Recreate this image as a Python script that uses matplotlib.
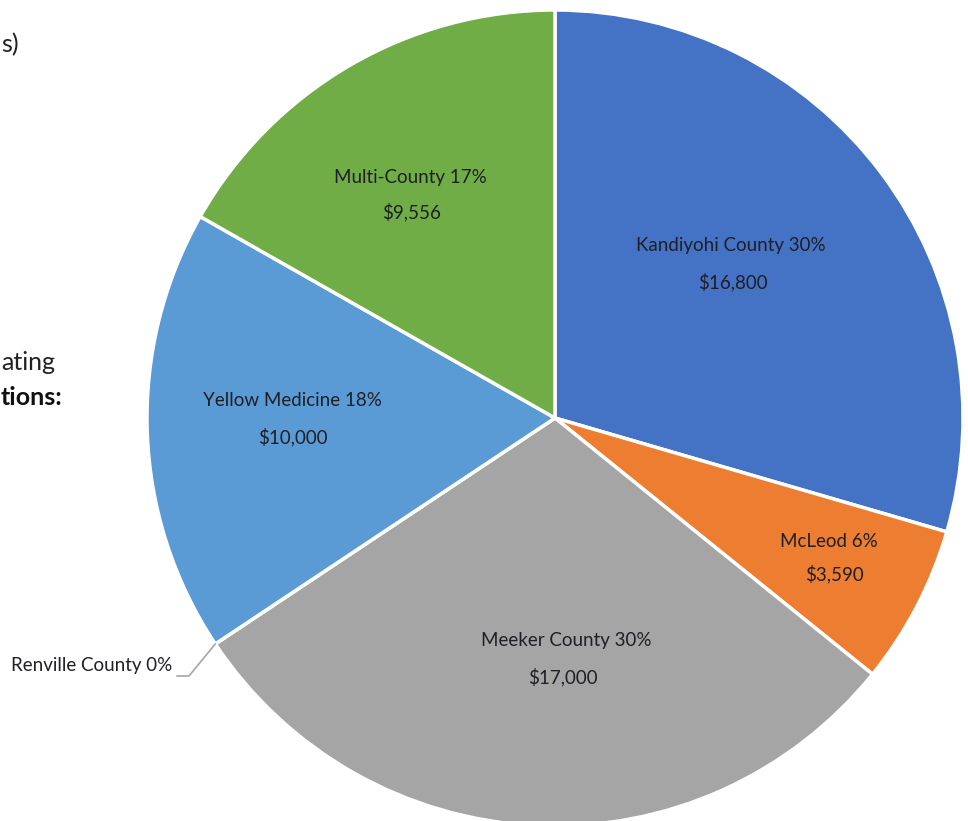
import matplotlib
matplotlib.use("Agg")
import matplotlib.pyplot as plt
import numpy as np

# ---- data ----
categories = ["Kandiyohi County", "McLeod", "Meeker County", "Renville County",
              "Yellow Medicine", "Multi-County"]
values = [16800, 3590, 17000, 0, 10000, 9556]
colors = ["#4472C4", "#ED7D31", "#A5A5A5", "#FFC000", "#5B9BD5", "#70AD47"]

# label placement (pixel coords, y from top) : (line1 x, line1 y, line2 x, line2 y)
label_pos = {
    "Kandiyohi County": (731, 245, 733, 282),
    "McLeod": (829, 541, 834, 574),
    "Meeker County": (566, 640, 563, 677),
    "Yellow Medicine": (292, 400, 293, 437),
    "Multi-County": (410, 177, 412, 212),
}

W, H = 968, 821
fig = plt.figure(figsize=(W / 100, H / 100), dpi=100)
ax = fig.add_axes([0, 0, 1, 1])

cx, cy, r = 555, 418, 408
wedges, _ = ax.pie(values, colors=colors, startangle=90, counterclock=False,
                   center=(cx, H - cy), radius=r,
                   wedgeprops=dict(edgecolor="white", linewidth=2.5))
ax.set_xlim(0, W)
ax.set_ylim(0, H)
ax.set_aspect("auto")
ax.axis("off")

font = "Lato"
tcolor = "#1f1f26"
fs = 13.5
total = sum(values)
for name, v in zip(categories, values):
    pct = round(v / total * 100)
    if name in label_pos:
        x1, y1, x2, y2 = label_pos[name]
        ax.text(x1, H - y1, f"{name} {pct}%", ha="center", va="center",
                fontsize=fs, family=font, color=tcolor)
        ax.text(x2, H - y2, f"${v:,}", ha="center", va="center",
                fontsize=fs, family=font, color=tcolor)

# Renville County (zero slice) with leader line
cum = sum(values[:3])
ang = np.deg2rad(90 - cum / total * 360)
px, py = cx + r * np.cos(ang), (H - cy) + r * np.sin(ang)
ax.plot([px, 189, 177], [py, H - 676, H - 676], color="#A6A6A6", lw=1.2)
pct_r = round(values[3] / total * 100)
ax.text(172, H - 665, f"{categories[3]} {pct_r}%", ha="right", va="center",
        fontsize=fs, family=font, color=tcolor)

# cropped slide text on the left
ax.text(1, H - 45, "s)", ha="left", va="center", fontsize=18, family=font,
        color="#222222")
ax.text(1, H - 362, "ating", ha="left", va="center", fontsize=18, family=font,
        color="#222222")
ax.text(1, H - 397, "tions:", ha="left", va="center", fontsize=18, family=font,
        color="#111111", fontweight="bold")

fig.savefig("out.png", dpi=100)
